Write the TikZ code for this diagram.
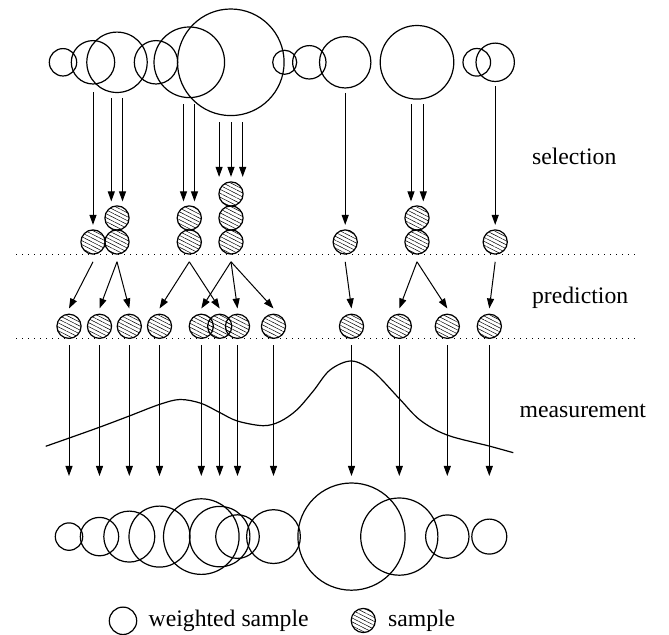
\documentclass[tikz,border=0pt]{standalone}
\usepackage{fontspec}
\setmainfont{Liberation Serif}
\newfontfamily\labelfont{Liberation Serif}
\usetikzlibrary{arrows.meta,patterns.meta,calc}
\begin{document}
\begin{tikzpicture}[x=0.5pt,y=-0.5pt,
  wc/.style={circle,draw,line width=0.6pt,inner sep=0pt,outer sep=0pt,minimum size=#1pt},
  smp/.style={circle,draw,line width=0.6pt,inner sep=0pt,outer sep=0pt,minimum size=12.1pt,
    pattern={Lines[angle=-27,distance=1.75pt,line width=0.25pt]}},
  arr/.style={line width=0.5pt,-{Triangle[length=5pt,width=3.5pt]}},
  dots/.style={line width=0.6pt,dash pattern=on 0.6pt off 2.4pt},
  lbl/.style={anchor=base west,inner sep=0pt,font=\labelfont\fontsize{11.85}{14}\selectfont}]
\useasboundingbox (0,0) rectangle (669,635);

% top weighted samples
\node[wc=13.7] (t1) at (63,62.3) {};
\node[wc=21.7] (t2) at (93,62.3) {};
\node[wc=30.2] (t3) at (117,62.3) {};
\node[wc=21.7] (t4) at (156,62.3) {};
\node[wc=35.3] (t5) at (189.3,62.3) {};
\node[wc=53.3] (t6) at (230.8,62.3) {};
\node[wc=12] (t7) at (284.7,62.3) {};
\node[wc=16.7] (t8) at (309.3,62.3) {};
\node[wc=25.7] (t9) at (345.2,62.3) {};
\node[wc=36.8] (t10) at (417,62.3) {};
\node[wc=13.8] (t11) at (476.8,62.3) {};
\node[wc=19.2] (t12) at (495.2,62.3) {};

% selected samples
\node[smp] (s1) at (93,242) {};
\node[smp] (s2a) at (117,242) {};
\node[smp] (s2b) at (117,218) {};
\node[smp] (s3a) at (189.3,242) {};
\node[smp] (s3b) at (189.3,218) {};
\node[smp] (s4a) at (231,242) {};
\node[smp] (s4b) at (231,218) {};
\node[smp] (s4c) at (231,194) {};
\node[smp] (s5) at (345.2,242) {};
\node[smp] (s6a) at (417,242) {};
\node[smp] (s6b) at (417,218) {};
\node[smp] (s7) at (495.2,242) {};

% predicted samples
\foreach \n/\x in {1/69,2/99.5,3/129.3,4/159.5,5/201.3,6/219.7,7/237.5,8/273.5,9/351.5,10/399.3,11/447.3,12/489.3}
  \node[smp] (p\n) at (\x,326.3) {};

% bottom weighted samples
\node[wc=13.7] (b1) at (69,536.6) {};
\node[wc=19.2] (b2) at (99.5,536.6) {};
\node[wc=25.5] (b3) at (129.3,536.6) {};
\node[wc=30.5] (b4) at (159.5,536.6) {};
\node[wc=37.8] (b5) at (201.3,536.6) {};
\node[wc=30.2] (b6) at (219.7,536.6) {};
\node[wc=21.8] (b7) at (237.5,536.6) {};
\node[wc=26.9] (b8) at (273.5,536.6) {};
\node[wc=53.6] (b9) at (351.5,536.6) {};
\node[wc=38.6] (b10) at (399.3,536.6) {};
\node[wc=21.7] (b11) at (447.3,536.6) {};
\node[wc=17.5] (b12) at (489.3,536.6) {};

% dotted separators
\draw[dots] (16,254.3) -- (638,254.3);
\draw[dots] (16,338.3) -- (638,338.3);

% selection arrows
\draw[arr] ($(s1.north |- t2.south)+(0,8.5)$) -- ($(s1.north)+(0,-5)$);
\foreach \d in {-5.7,5.5}
  \draw[arr] ($(s2b.north |- t3.south)+(\d,5.5)$) -- ($(s2b.north)+(\d,-4.5)$);
\foreach \d in {-5.8,5.2}
  \draw[arr] ($(s3b.north |- t5.south)+(\d,6.5)$) -- ($(s3b.north)+(\d,-4.5)$);
\foreach \d in {-11.9,0,11.7}
  \draw[arr] ($(s4c.north |- t6.south)+(\d,6.5)$) -- ($(s4c.north)+(\d,-5)$);
\draw[arr] ($(s5.north |- t9.south)+(0,5)$) -- ($(s5.north)+(0,-5)$);
\foreach \d in {-6,6.3}
  \draw[arr] ($(s6b.north |- t10.south)+(\d,5)$) -- ($(s6b.north)+(\d,-4.5)$);
\draw[arr] ($(s7.north |- t12.south)+(0,5)$) -- ($(s7.north)+(0,-5)$);

% prediction arrows
\foreach \s/\p in {s1/p1,s2a/p2,s2a/p3,s3a/p4,s3a/p6,s4a/p5,s4a/p7,s4a/p8,s5/p9,s6a/p10,s6a/p11,s7/p12}
  \draw[arr] ($(\s.south)+(0,7.7)$) -- ($(\p.north)+(0,-5.7)$);

% measurement arrows
\coordinate (mt) at (0,476);
\foreach \n in {1,...,12}
  \draw[arr] ($(p\n.south)+(0,7)$) -- (p\n.south |- mt);

% likelihood curve
\draw[line width=0.6pt] plot[smooth,tension=0.55] coordinates {
  (45.7,446.3) (69.3,438) (99.3,427.3) (129.3,416) (159.3,404.5) (180,399.5)
  (201,403.3) (219.3,412.3) (237.3,421) (263.3,425.7) (280,421.5) (296.7,410)
  (313.3,391) (330,370) (351.7,361) (373.3,371.7) (399,398.3) (420,420)
  (447,435) (489,446) (513.3,452.7)};

% labels
\node[lbl] (lsel) at (531.7,165) {selection};
\node[lbl] (lpred) at (531.7,304) {prediction};
\node[lbl] (lmeas) at (519.3,417.3) {measurement};

% legend
\node[wc=13.7] (lw) at (123,620.8) {};
\node[lbl] (lwt) at (148.3,626.7) {weighted sample};
\node[smp] (ls) at (363.3,620.5) {};
\node[lbl] (lst) at (387.7,626.7) {sample};
\end{tikzpicture}
\end{document}
